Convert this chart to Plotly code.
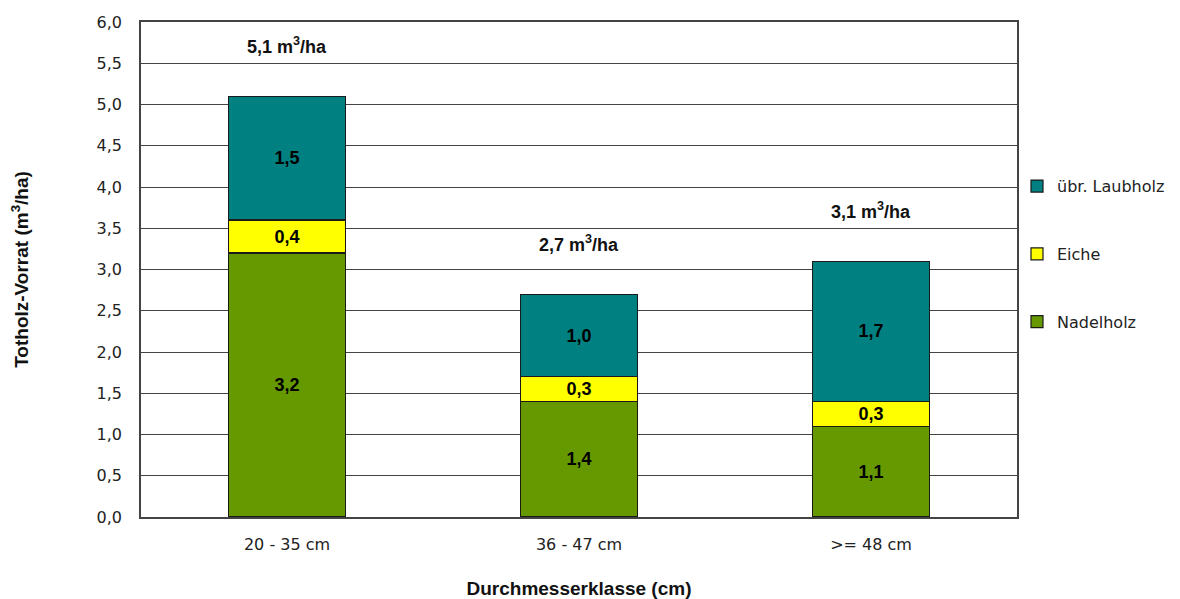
import plotly.graph_objects as go

categories = ["20 - 35 cm", "36 - 47 cm", ">= 48 cm"]
nadelholz = [3.2, 1.4, 1.1]
eiche = [0.4, 0.3, 0.3]
laubholz = [1.5, 1.0, 1.7]
totals = [5.1, 2.7, 3.1]
total_labels = ["5,1 m<sup>3</sup>/ha", "2,7 m<sup>3</sup>/ha", "3,1 m<sup>3</sup>/ha"]

series = [
    ("Nadelholz", nadelholz, "#669900", 3),
    ("Eiche", eiche, "#FFFF00", 2),
    ("übr. Laubholz", laubholz, "#008080", 1),
]

bold_font = "Liberation Sans, Arial, sans-serif"
tick_font = "DejaVu Sans, Verdana, sans-serif"

fig = go.Figure()
for name, vals, col, rank in series:
    fig.add_trace(go.Bar(
        x=categories, y=vals, name=name,
        marker=dict(color=col, line=dict(color="#1a1a1a", width=1.2)),
        text=vals, texttemplate="<b>%{y:.1f}</b>", textposition="inside",
        insidetextanchor="middle", textangle=0,
        textfont=dict(family=bold_font, size=18, color="black"),
        constraintext="none",
        legendgroup=name, legendrank=rank,
        width=0.4,
    ))

for cat, tot, lab in zip(categories, totals, total_labels):
    fig.add_annotation(x=cat, y=tot + 0.62, text="<b>" + lab + "</b>", showarrow=False,
                       font=dict(family=bold_font, size=18, color="#111"))

fig.update_layout(
    barmode="stack",
    separators=",.",
    width=1172, height=591,
    margin=dict(l=133, r=163, t=14, b=82, autoexpand=False),
    plot_bgcolor="white", paper_bgcolor="white",
    font=dict(family=tick_font, size=16, color="#222"),
    showlegend=True,
    legend=dict(traceorder="grouped", x=1.0, xanchor="left", y=0.531, yanchor="middle",
                tracegroupgap=44, itemwidth=30, bgcolor="rgba(0,0,0,0)",
                font=dict(family=tick_font, size=16, color="#222")),
    xaxis=dict(showline=True, linecolor="#444", linewidth=1.5, mirror=True,
               ticks="", ticklabelstandoff=12, tickfont=dict(size=16), automargin=False,
               title=dict(text="<b>Durchmesserklasse (cm)</b>", standoff=30,
                          font=dict(family=bold_font, size=19, color="#111"))),
    yaxis=dict(range=[0, 6], dtick=0.5, tickformat=".1f", showgrid=True,
               gridcolor="#444", gridwidth=1.3, showline=True, linecolor="#444",
               linewidth=1.5, mirror=True, zeroline=False, ticks="", automargin=False,
               ticklabelstandoff=14, tickfont=dict(size=16),
               title=dict(text="<b>Totholz-Vorrat (m<sup>3</sup>/ha)</b>", standoff=64,
                          font=dict(family=bold_font, size=19, color="#111"))),
)

fig.write_html("out.html")
